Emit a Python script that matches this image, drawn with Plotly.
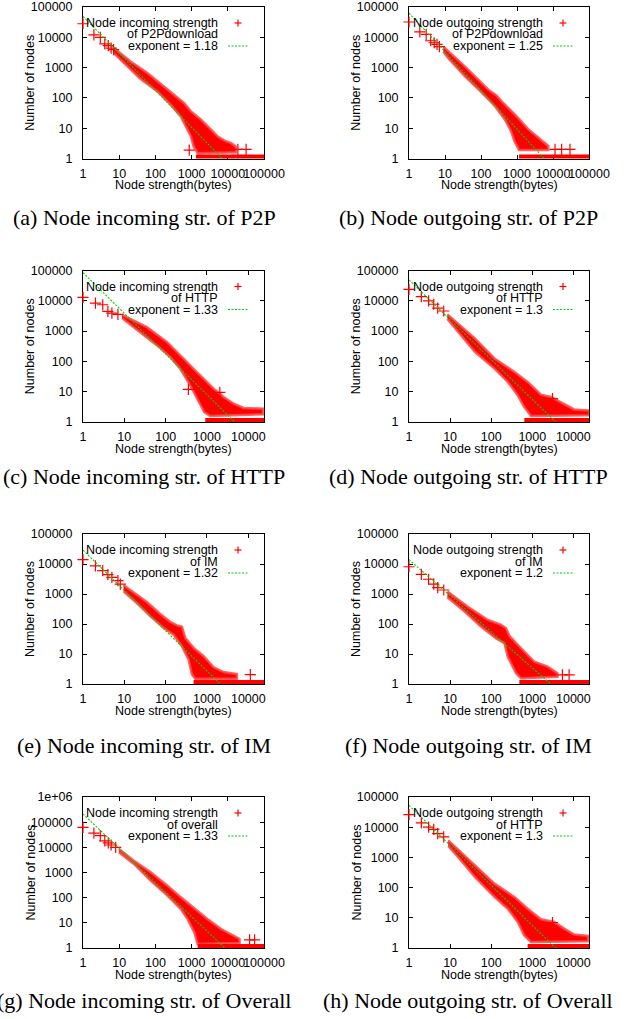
import plotly.graph_objects as go

W, H = 630, 1019

# ---------------- data ----------------
# (a) incoming strength, P2Pdownload
a_head_x = [1, 2, 3, 4, 5, 6, 7]
a_head_y = [28000, 12000, 10000, 6100, 5300, 4400, 3900]
a_cloud_x = [7.1, 20.6, 60, 174, 408, 625, 960, 1820, 3440, 5300, 8100, 12400, 17000, 17000,
             1470, 1140, 960, 700, 505, 267, 114, 39, 13.5, 7.1]
a_cloud_y = [4400, 1600, 660, 240, 104, 67, 36, 19, 8.9, 5.3, 3.9, 3.2, 2.4, 1.6,
             1.5, 2.5, 5.3, 11.4, 24, 59, 164, 420, 1400, 3000]
a_ones_x = [1320, 100000]
a_sparse_x = [860, 19000, 32000]
a_sparse_y = [1.9, 2, 2]
a_fit_x = [1, 7000]
a_fit_y = [49000, 1]

# (b) outgoing strength, P2Pdownload
b_head_x = [1, 2, 3, 4, 5, 6, 7]
b_head_y = [32000, 15000, 12400, 7700, 6600, 5800, 4900]
b_cloud_x = [9, 36, 160, 272, 375, 880, 2070, 4840, 7400, 7400,
             1140, 845, 680, 464, 245, 104, 36, 12.4, 9]
b_cloud_y = [4900, 1080, 187, 119, 77, 28, 9.1, 3.8, 2.6, 1.9,
             1.9, 3.8, 8.1, 19, 53, 152, 510, 2030, 3360]
b_ones_x = [1140, 100000]
b_sparse_x = [11400, 17400, 29600]
b_sparse_y = [2, 2, 2]
b_fit_x = [1, 5700]
b_fit_y = [63000, 1]

# (c) incoming strength, HTTP
c_head_x = [1, 2, 3, 4, 5, 7]
c_head_y = [13000, 8400, 7400, 4450, 3900, 3550]
c_cloud_x = [8.8, 35, 108, 226, 328, 522, 830, 1450, 2530, 4420, 7700, 22600, 22600,
             1200, 860, 573, 395, 226, 130, 62, 24, 11.6, 8.8]
c_cloud_y = [3450, 1350, 434, 166, 95, 50, 27, 12.6, 6.7, 4.0, 2.9, 2.75, 1.8,
             1.58, 2.1, 5.9, 16, 57, 139, 337, 927, 2080, 2680]
c_ones_x = [910, 24000]
c_sparse_x = [355, 2050]
c_sparse_y = [12, 9.5]
c_fit_x = [1, 4700]
c_fit_y = [85000, 1]

# (d) outgoing strength, HTTP
d_head_x = [1, 2, 3, 4, 5, 7]
d_head_y = [24000, 13800, 10000, 7700, 5700, 4600]
d_cloud_x = [8.6, 40, 120, 367, 771, 1620, 2830, 5940, 10400, 24400, 24400,
             930, 640, 442, 253, 120, 40, 15.6, 8.6]
d_cloud_y = [3580, 575, 125, 45, 21, 8.0, 6.7, 4.0, 2.6, 2.4, 1.66,
             1.58, 3.1, 7.6, 21, 58, 208, 955, 2500]
d_ones_x = [640, 24000]
d_sparse_x = [3100]
d_sparse_y = [5.9]
d_fit_x = [1, 3700]
d_fit_y = [49000, 1]

# (e) incoming strength, IM
e_head_x = [1, 2, 3, 4, 5, 7, 8]
e_head_y = [14000, 8700, 6000, 4400, 3600, 2800, 2150]
e_cloud_x = [9.6, 35, 74, 130, 188, 248, 299, 476, 830, 1450, 2530, 5300, 5300,
             520, 434, 360, 248, 156, 90, 43, 20, 9.6]
e_cloud_y = [1950, 540, 215, 117, 90, 81, 34, 16, 8.4, 3.6, 2.5, 2.15, 1.5,
             1.5, 2.05, 6.5, 18, 44, 74, 180, 500, 1230]
e_ones_x = [475, 24000]
e_sparse_x = [11200]
e_sparse_y = [2.05]
e_fit_x = [1, 2100]
e_fit_y = [29000, 1]

# (f) outgoing strength, IM
f_head_x = [1, 2, 3, 4, 5, 7]
f_head_y = [8100, 4500, 3100, 2150, 1630, 1360]
f_cloud_x = [8.6, 27, 83, 132, 175, 230, 278, 403, 640, 1120, 2350, 4100, 4100,
             530, 403, 253, 210, 132, 57, 22.6, 8.6]
f_cloud_y = [1200, 378, 136, 105, 93, 72, 40, 23, 12, 5.5, 3.8, 2.3, 1.75,
             1.55, 2.3, 8.1, 23, 33, 81, 258, 775]
f_ones_x = [485, 24000]
f_sparse_x = [5400, 7860]
f_sparse_y = [2, 2]
f_fit_x = [1, 2800]
f_fit_y = [14000, 1]

# (g) incoming strength, overall
g_head_x = [1, 2, 3, 4, 5, 6, 8]
g_head_y = [62000, 37000, 29000, 18000, 15000, 12400, 10000]
g_cloud_x = [9.8, 25.5, 74, 215, 505, 1190, 2780, 6530, 15300, 21100, 21100,
             1470, 1190, 775, 505, 215, 74, 25.5, 9.8]
g_cloud_y = [8600, 2950, 1015, 300, 103, 38, 14, 5.7, 3.1, 2.3, 1.58,
             1.44, 4.2, 14, 35, 120, 473, 2180, 6330]
g_ones_x = [1470, 100000]
g_sparse_x = [40000, 55000]
g_sparse_y = [2.1, 2.1]
g_fit_x = [1, 8300]
g_fit_y = [210000, 1]

# (h) outgoing strength, overall
h_head_x = [1, 2, 3, 4, 5, 7]
h_head_y = [26000, 14000, 10000, 8500, 6100, 4750]
h_cloud_x = [9, 40, 120, 367, 771, 1620, 3410, 5940, 10400, 22600, 22600,
             930, 640, 442, 253, 120, 40, 15.6, 9]
h_cloud_y = [3670, 546, 135, 49, 20, 8.9, 7.3, 4.4, 2.8, 2.5, 1.66,
             1.58, 2.6, 7.3, 20, 49, 224, 1030, 2390]
h_ones_x = [770, 24000]
h_sparse_x = [3100]
h_sparse_y = [7]
h_fit_x = [1, 3700]
h_fit_y = [53000, 1]

legend_line1 = ["Node incoming strength", "Node outgoing strength",
                "Node incoming strength", "Node outgoing strength",
                "Node incoming strength", "Node outgoing strength",
                "Node incoming strength", "Node outgoing strength"]
legend_line2 = ["of P2Pdownload", "of P2Pdownload", "of HTTP", "of HTTP",
                "of IM", "of IM", "of overall", "of HTTP"]
exponents = ["1.18", "1.25", "1.33", "1.3", "1.32", "1.2", "1.33", "1.3"]
captions = ["(a) Node incoming str. of P2P", "(b) Node outgoing str. of P2P",
            "(c) Node incoming str. of HTTP", "(d) Node outgoing str. of HTTP",
            "(e) Node incoming str. of IM", "(f) Node outgoing str. of IM",
            "(g) Node incoming str. of Overall", "(h) Node outgoing str. of Overall"]
x_tick_vals = [1, 10, 100, 1000, 10000, 100000]
x_tick_text = ["1", "10", "100", "1000", "10000", "100000"]
y_tick_vals = [1, 10, 100, 1000, 10000, 100000, 1000000]
y_tick_text = ["1", "10", "100", "1000", "10000", "100000", "1e+06"]
x_log_max = [5, 5, 4.38, 4.38, 4.38, 4.38, 5, 4.38]
y_log_max = [5, 5, 5, 5, 5, 5, 6, 5]

panels = [
    (a_head_x, a_head_y, a_cloud_x, a_cloud_y, a_ones_x, a_sparse_x, a_sparse_y, a_fit_x, a_fit_y),
    (b_head_x, b_head_y, b_cloud_x, b_cloud_y, b_ones_x, b_sparse_x, b_sparse_y, b_fit_x, b_fit_y),
    (c_head_x, c_head_y, c_cloud_x, c_cloud_y, c_ones_x, c_sparse_x, c_sparse_y, c_fit_x, c_fit_y),
    (d_head_x, d_head_y, d_cloud_x, d_cloud_y, d_ones_x, d_sparse_x, d_sparse_y, d_fit_x, d_fit_y),
    (e_head_x, e_head_y, e_cloud_x, e_cloud_y, e_ones_x, e_sparse_x, e_sparse_y, e_fit_x, e_fit_y),
    (f_head_x, f_head_y, f_cloud_x, f_cloud_y, f_ones_x, f_sparse_x, f_sparse_y, f_fit_x, f_fit_y),
    (g_head_x, g_head_y, g_cloud_x, g_cloud_y, g_ones_x, g_sparse_x, g_sparse_y, g_fit_x, g_fit_y),
    (h_head_x, h_head_y, h_cloud_x, h_cloud_y, h_ones_x, h_sparse_x, h_sparse_y, h_fit_x, h_fit_y),
]

# ---------------- layout geometry (pixels) ----------------
COLS = [(83, 264), (409, 589)]
ROWS = [(7, 158.5), (270.5, 422), (534, 684), (797, 948)]
CAPTION_X = [144, 468]
CAPTION_Y = [218, 477, 745, 1000]

SANS = "Liberation Sans"
SERIF = "Liberation Serif"
FS = 12.5
RED = "#ff0000"
GREEN = "#00d000"


def fx(p):
    return p / W


def fy(p):
    return 1 - p / H


fig = go.Figure()
annotations = []
shapes = []
layout = dict(width=W, height=H, autosize=False, template="none",
              margin=dict(l=0, r=0, t=0, b=0, autoexpand=False),
              paper_bgcolor="white", plot_bgcolor="white",
              showlegend=False, hovermode=False)

for i, (hx, hy, cx, cy, ox, sx, sy, fitx, fity) in enumerate(panels):
    r, c = divmod(i, 2)
    left, right = COLS[c]
    top, bottom = ROWS[r]
    sfx = "" if i == 0 else str(i + 1)
    xa, ya = "x" + sfx, "y" + sfx

    # dense cloud of points
    fig.add_trace(go.Scatter(x=cx, y=cy, xaxis=xa, yaxis=ya, mode="lines",
                             fill="toself", fillcolor=RED,
                             line=dict(color="rgba(255,70,70,0.85)", width=2.5)))
    # row of nodes with count 1
    fig.add_trace(go.Scatter(x=ox, y=[1] * len(ox), xaxis=xa, yaxis=ya, mode="lines",
                             line=dict(color=RED, width=8)))
    # individual points
    fig.add_trace(go.Scatter(x=hx + sx, y=hy + sy, xaxis=xa, yaxis=ya, mode="markers",
                             cliponaxis=False,
                             marker=dict(symbol="cross-thin", size=8,
                                         line=dict(color=RED, width=1.2))))
    # power-law fit
    fig.add_trace(go.Scatter(x=fitx, y=fity, xaxis=xa, yaxis=ya, mode="lines",
                             line=dict(color=GREEN, width=1.1, dash="2px,1.5px")))

    common = dict(type="log", showline=True, linecolor="black", linewidth=1,
                  mirror="allticks", ticks="inside", ticklen=4, tickwidth=1,
                  tickcolor="black", showgrid=False, zeroline=False, automargin=False,
                  tickfont=dict(family=SANS, size=FS, color="black"),
                  layer="below traces", tickmode="array", tickangle=0)
    xv = [v for v in x_tick_vals if v <= 10 ** x_log_max[i] * 1.001]
    yv = [v for v in y_tick_vals if v <= 10 ** y_log_max[i] * 1.001]
    layout["xaxis" + sfx] = dict(common, domain=[fx(left), fx(right)],
                                 range=[0, x_log_max[i]], anchor=ya,
                                 tickvals=xv, ticktext=x_tick_text[:len(xv)],
                                 ticklabelstandoff=3)
    layout["yaxis" + sfx] = dict(common, domain=[fy(bottom), fy(top)],
                                 range=[0, y_log_max[i]], anchor=xa,
                                 tickvals=yv, ticktext=y_tick_text[:len(yv)],
                                 ticklabelstandoff=7)

    # axis titles
    annotations.append(dict(xref="paper", yref="paper", x=fx(left - 53),
                            y=fy((top + bottom) / 2), text="Number of nodes",
                            textangle=-90, showarrow=False,
                            font=dict(family=SANS, size=FS, color="black"),
                            xanchor="center", yanchor="middle"))
    annotations.append(dict(xref="paper", yref="paper", x=fx((left + right) / 2),
                            y=fy(bottom + 26.5), text="Node strength(bytes)",
                            showarrow=False,
                            font=dict(family=SANS, size=FS, color="black"),
                            xanchor="center", yanchor="middle"))
    # key
    for k, txt in enumerate([legend_line1[i], legend_line2[i], "exponent = " + exponents[i]]):
        annotations.append(dict(xref="paper", yref="paper", x=fx(right - 44),
                                y=fy(top + 16 + 11.5 * k), text=txt, showarrow=False,
                                font=dict(family=SANS, size=FS, color="black"),
                                xanchor="right", yanchor="middle"))
    kx, ky = right - 26, top + 16
    shapes.append(dict(type="line", xref="paper", yref="paper",
                       x0=fx(kx - 3.5), x1=fx(kx + 3.5), y0=fy(ky), y1=fy(ky),
                       line=dict(color=RED, width=1.2)))
    shapes.append(dict(type="line", xref="paper", yref="paper",
                       x0=fx(kx), x1=fx(kx), y0=fy(ky - 3.5), y1=fy(ky + 3.5),
                       line=dict(color=RED, width=1.2)))
    shapes.append(dict(type="line", xref="paper", yref="paper",
                       x0=fx(right - 36), x1=fx(right - 16), y0=fy(top + 39), y1=fy(top + 39),
                       line=dict(color=GREEN, width=1.1, dash="2px,1.5px")))
    # caption
    annotations.append(dict(xref="paper", yref="paper", x=fx(CAPTION_X[c]),
                            y=fy(CAPTION_Y[r]), text=captions[i], showarrow=False,
                            font=dict(family=SERIF, size=22, color="black"),
                            xanchor="center", yanchor="middle"))

layout["annotations"] = annotations
layout["shapes"] = shapes
fig.update_layout(**layout)
fig.write_html("out.html")
